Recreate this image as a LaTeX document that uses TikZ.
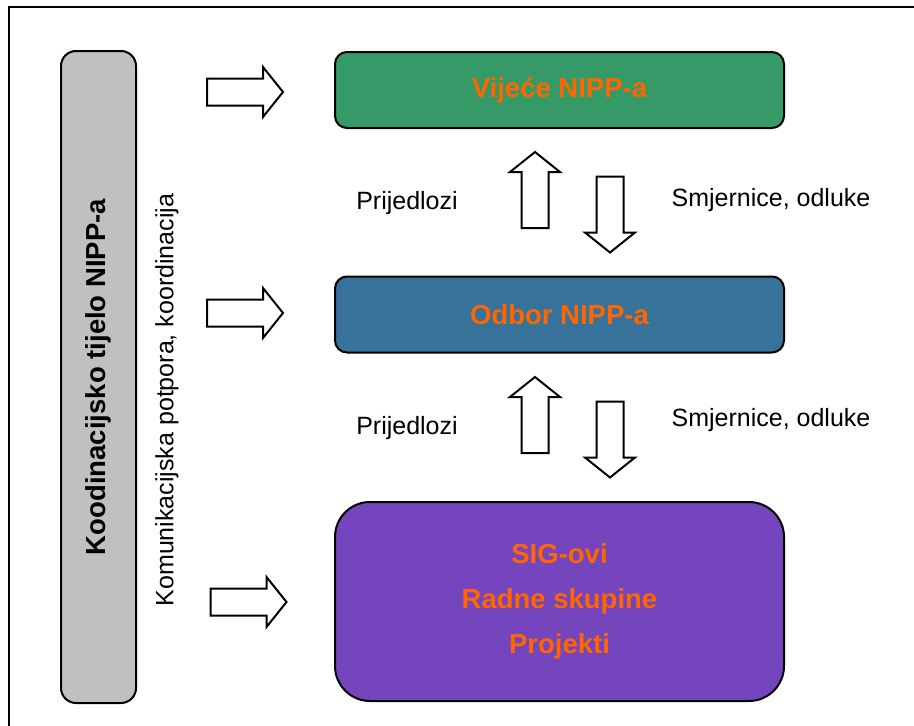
\documentclass[tikz,border=0pt]{standalone}
\usepackage{fontspec}
\setmainfont{Liberation Sans}
\usetikzlibrary{positioning}

\definecolor{vijecegreen}{RGB}{53,154,104}
\definecolor{odborblue}{RGB}{55,114,154}
\definecolor{sigpurple}{RGB}{116,69,188}
\definecolor{tijelogrey}{RGB}{192,192,192}
\definecolor{labelorange}{RGB}{255,102,0}

\begin{document}
\begin{tikzpicture}[
    x=1pt, y=-1pt,
    level/.style={draw=black,line width=2pt,rounded corners=12pt,
      minimum width=449pt,minimum height=76pt,inner sep=0pt,
      text=labelorange,font=\fontsize{27.5}{45}\selectfont\bfseries,align=center},
    note/.style={inner sep=0pt,font=\fontsize{25}{30}\selectfont},
    blockarr/.pic={
      \draw[line width=2pt,fill=white,line join=miter]
        (-38,-13.5) -- (18,-13.5) -- (18,-25) -- (38,0)
        -- (18,25) -- (18,13.5) -- (-38,13.5) -- cycle;
    }
    ]
    \useasboundingbox (0,0) rectangle (914,726);
    \clip (0,0) rectangle (914,726);

    % outer frame
    \draw[line width=2pt] (9,7) rectangle (930,745);

    % coordinating body
    \node (tijelo) [level,rotate=90,fill=tijelogrey,text=black,
      minimum width=652pt,minimum height=75pt,rounded corners=15pt]
      at (98.5,377) {Koodinacijsko tijelo NIPP-a};
    \node (podrska) [note,rotate=90] at (167,400)
      {Komunikacijska potpora, koordinacija};

    % levels
    \node (vijece) [level,fill=vijecegreen] at (559.5,90) {Vije\'ce NIPP-a};
    \node (odbor) [level,fill=odborblue] at (559.5,314.5) {Odbor NIPP-a};
    \node (sig) [level,fill=sigpurple,minimum height=199pt,rounded corners=35pt]
      at (559.5,601.5) {SIG-ovi\\Radne skupine\\Projekti};

    % support arrows
    \pic at (245,92) {blockarr};
    \pic at (245,313) {blockarr};
    \pic at (248.5,602) {blockarr};

    % proposals up, guidelines down
    \foreach \dy in {0,225} {
      \pic[rotate=90] at (535,190+\dy) {blockarr};
      \pic[rotate=-90] at (610,214.5+\dy) {blockarr};
    }

    \node (prijedlozi1) [note] at (407,203) {Prijedlozi};
    \node (smjernice1) [note] at (771,200) {Smjernice, odluke};
    \node (prijedlozi2) [note] at (407,428) {Prijedlozi};
    \node (smjernice2) [note] at (771,420) {Smjernice, odluke};

  \end{tikzpicture}
\end{document}
